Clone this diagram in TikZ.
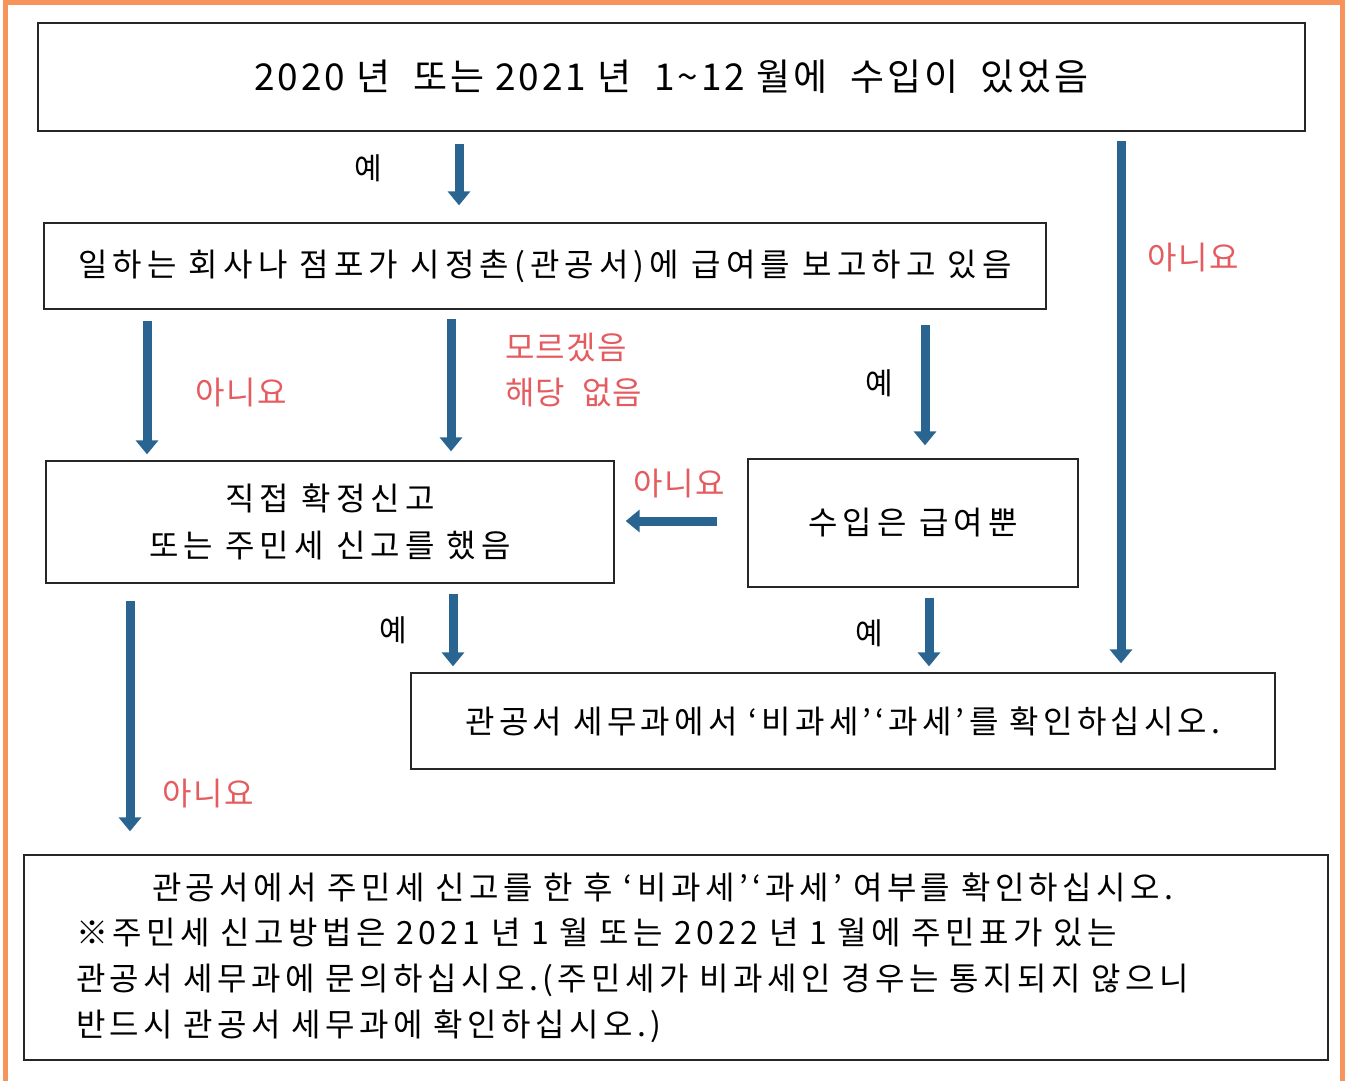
\documentclass[tikz,border=0pt]{standalone}
\usepackage{fontspec}
\setmainfont{Noto Sans CJK KR}
\usetikzlibrary{arrows.meta}
\definecolor{frameorange}{RGB}{247,148,92}
\definecolor{arrowblue}{RGB}{42,101,146}
\definecolor{labelred}{RGB}{228,92,96}
\newcommand\fsz[2]{\fontsize{#1pt}{#2pt}\selectfont}
\newcommand\lsp[1]{\addfontfeature{LetterSpace=#1}}
\tikzset{
  box/.style={draw=black!85, line width=1.3pt, inner sep=0pt, align=center, text=black},
  flow/.style={draw=arrowblue, line width=9pt, -{Triangle[width=22pt,length=14pt]}},
  nolabel/.style={text=labelred, inner sep=0pt, font=\fsz{32}{45}\lsp{4}},
  yeslabel/.style={text=black, inner sep=0pt, font=\fsz{30}{40}\lsp{2}},
}
\begin{document}
\begin{tikzpicture}[x=1pt,y=-1pt]
\useasboundingbox (0,0) rectangle (1351,1080);
\begin{scope}
\clip (0,0) rectangle (1351,1080);
\draw[frameorange, line width=5pt] (5.5,2.5) rectangle (1342.5,1110);
\end{scope}

\node[box, minimum width=1267pt, minimum height=108pt, font=\fsz{37}{40}\lsp{8}] (b1) at (671.5,77)
  {2020 년 \ 또는 2021 년 \ 1\textasciitilde12 월에 \ 수입이 \ 있었음};
\node[box, minimum width=1002pt, minimum height=86pt, font=\fsz{32}{40}\lsp{16}] (b2) at (545,266)
  {일하는 회사나 점포가 시정촌(관공서)에 급여를 보고하고 있음};
\node[box, minimum width=568pt, minimum height=122pt, font=\fsz{32}{47}\lsp{16}] (b3) at (330,522)
  {직접 확정신고\\또는 주민세 신고를 했음};
\node[box, minimum width=330pt, minimum height=128pt, font=\fsz{32}{40}\lsp{16}] (b4) at (913,523)
  {수입은 급여뿐};
\node[box, minimum width=864pt, minimum height=96pt, font=\fsz{32}{40}\lsp{13}] (b5) at (843,721)
  {관공서 세무과에서 ‘비과세’‘과세’를 확인하십시오.};
\node[box, text width=1200pt, inner xsep=52pt, minimum height=205pt, align=left, font=\fsz{32}{45.7}\lsp{14}] (b6) at (676,957.5)
  {\hspace*{76pt}관공서에서 주민세 신고를 한 후 ‘비과세’‘과세’ 여부를 확인하십시오.\\
   ※주민세 신고방법은 2021 년 1 월 또는 2022 년 1 월에 주민표가 있는\\
   관공서 세무과에 문의하십시오.(주민세가 비과세인 경우는 통지되지 않으니\\
   반드시 관공서 세무과에 확인하십시오.)};

% connectors
\draw[flow] ([xshift=-212.5pt,yshift=-12pt]b1.south) -- ([xshift=-86pt,yshift=17pt]b2.north);
\draw[flow] ([xshift=449.5pt,yshift=-9pt]b1.south) -- ([xshift=278pt,yshift=9pt]b5.north);
\draw[flow] ([xshift=-398pt,yshift=-11pt]b2.south) -- ([xshift=-183pt,yshift=6pt]b3.north);
\draw[flow] ([xshift=-94pt,yshift=-9pt]b2.south) -- ([xshift=121pt,yshift=9pt]b3.north);
\draw[flow] ([xshift=380pt,yshift=-15pt]b2.south) -- ([xshift=12pt,yshift=13pt]b4.north);
\draw[flow] ([xshift=-30pt,yshift=2pt]b4.west) -- ([xshift=11pt,yshift=1pt]b3.east);
\draw[flow] ([xshift=-200pt,yshift=-17pt]b3.south) -- ([xshift=-546pt,yshift=23pt]b6.north);
\draw[flow] ([xshift=123pt,yshift=-10pt]b3.south) -- ([xshift=-390pt,yshift=6pt]b5.north);
\draw[flow] ([xshift=16pt,yshift=-10pt]b4.south) -- ([xshift=86pt,yshift=6pt]b5.north);

% labels
\node[yeslabel] (y1) at (368,168) {예};
\node[yeslabel] (y2) at (879,383) {예};
\node[yeslabel] (y3) at (393,630) {예};
\node[yeslabel] (y4) at (869,633) {예};
\node[nolabel] (n1) at (1193,258) {아니요};
\node[nolabel] (n2) at (241,393) {아니요};
\node[nolabel, anchor=west, align=left] (n3) at (505,370) {모르겠음\\해당 \ 없음};
\node[nolabel] (n4) at (679,484) {아니요};
\node[nolabel] (n5) at (208,793) {아니요};
\end{tikzpicture}
\end{document}
